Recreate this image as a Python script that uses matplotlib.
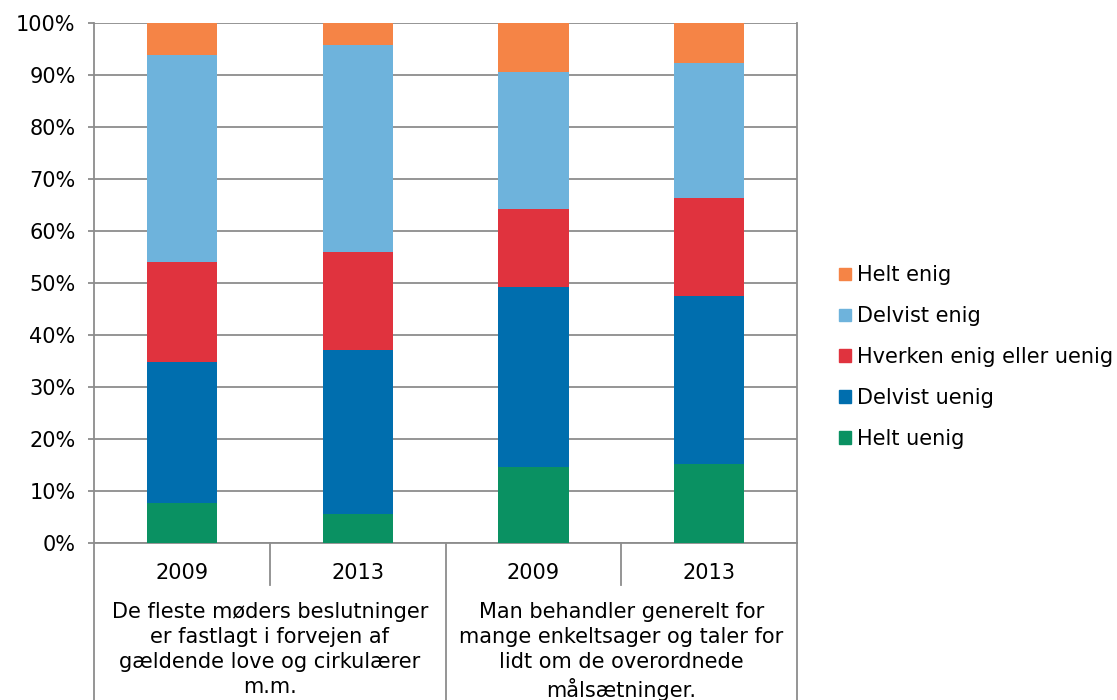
import numpy as np
import matplotlib.pyplot as plt
from matplotlib.patches import Patch

# data (percent)
years = ["2009", "2013", "2009", "2013"]
groups = ["De fleste møders beslutninger\ner fastlagt i forvejen af\ngældende love og cirkulærer\nm.m.",
          "Man behandler generelt for\nmange enkeltsager og taler for\nlidt om de overordnede\nmålsætninger."]
series = ["Helt uenig", "Delvist uenig", "Hverken enig eller uenig", "Delvist enig", "Helt enig"]
helt_uenig = [7.7, 5.6, 14.6, 15.2]
delvist_uenig = [27.1, 31.5, 34.6, 32.3]
hverken = [19.2, 18.9, 15.0, 18.8]
delvist_enig = [39.8, 39.8, 26.4, 26.0]
helt_enig = [6.2, 4.2, 9.4, 7.7]
colors = ["#0A9162", "#006EAE", "#E0333E", "#6EB3DC", "#F58446"]

values = [helt_uenig, delvist_uenig, hverken, delvist_enig, helt_enig]

plt.rcParams['font.family'] = ['DejaVu Sans']
fig = plt.figure(figsize=(11.17, 7.0), dpi=100)
ax = fig.add_axes([0.0842, 0.2243, 0.6293, 0.7427])

x = np.arange(len(years))
bottom = np.zeros(len(years))
for name, vals, c in zip(series, values, colors):
    ax.bar(x, vals, 0.4, bottom=bottom, color=c, label=name, zorder=3)
    bottom += np.array(vals)

ax.set_xlim(-0.5, len(years) - 0.5)
ax.set_ylim(0, 100)
ax.set_yticks(np.arange(0, 101, 10))
ax.set_yticklabels([f"{v}%" for v in range(0, 101, 10)], fontsize=15)
ax.yaxis.grid(True, color="#8c8c8c", linewidth=1.3, zorder=0)
ax.tick_params(axis="y", length=4.3, color="#8c8c8c", width=1.3, pad=9)
ax.set_xticks([])
ax.spines["top"].set_visible(False)
for s in ["left", "right", "bottom"]:
    ax.spines[s].set_color("#8c8c8c")
    ax.spines[s].set_linewidth(1.3)

# multi-level category axis
trans = ax.get_xaxis_transform()
for i, y in enumerate(years):
    ax.text(i, -0.058, y, transform=trans, ha="center", va="center", fontsize=15)
for g, lbl in enumerate(groups):
    ax.text(2 * g + 0.5, -0.113, lbl, transform=trans, ha="center", va="top",
            fontsize=15, linespacing=1.32)
line_kw = dict(transform=trans, color="#8c8c8c", linewidth=1.3, clip_on=False)
for xb in [-0.5, 1.5, 3.5]:
    ax.plot([xb, xb], [0, -0.31], **line_kw)
for xb in [0.5, 2.5]:
    ax.plot([xb, xb], [0, -0.08], **line_kw)

handles = [Patch(color=c, label=n) for n, c in zip(series, colors)][::-1]
fig.legend(handles=handles, loc="center left", bbox_to_anchor=(0.742, 0.49),
           frameon=False, fontsize=15, handlelength=0.55, handleheight=0.55,
           handletextpad=0.3, labelspacing=1.0, borderpad=0)

fig.savefig("out.png", dpi=100)
